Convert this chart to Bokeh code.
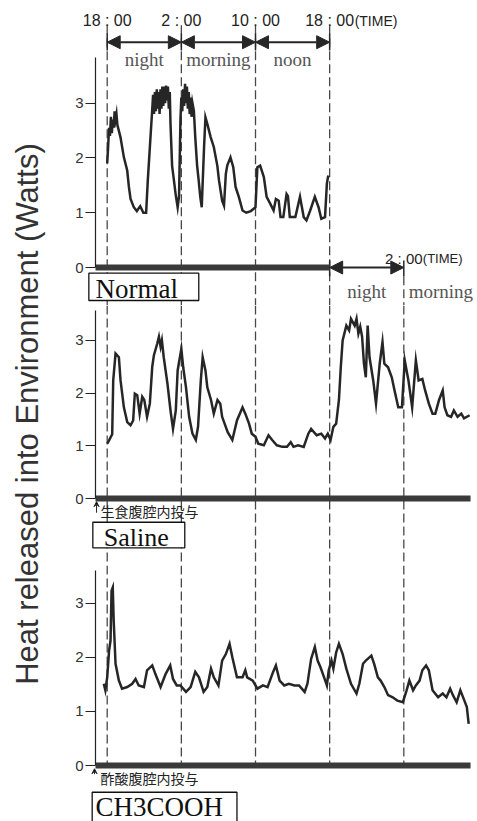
import math
from bokeh.plotting import figure
from bokeh.layouts import row, column
from bokeh.models import FixedTicker, Arrow, NormalHead, VeeHead, Range1d
from bokeh.core.properties import value
from bokeh.embed import file_html
from bokeh.resources import INLINE

# ---------------- data (hours after 18:00 of day 1, Watts) ----------------
t_normal = [0.0, 0.1, 0.2, 0.3, 0.4, 0.5, 0.6, 0.7, 0.8, 0.9, 1.0, 1.1, 1.43, 1.8, 2.16, 2.34, 2.52,
            2.87, 3.2, 3.56, 3.9, 4.2, 4.38, 4.67, 4.85,
            4.95, 5.05, 5.15, 5.25, 5.35, 5.45, 5.55, 5.65, 5.75, 5.85, 5.95, 6.05, 6.15, 6.25,
            6.35, 6.45, 6.55, 6.65, 6.75, 6.83, 7.0, 7.2, 7.38, 7.6, 7.75, 7.9,
            8.0, 8.1, 8.2, 8.3, 8.4, 8.5, 8.6, 8.7, 8.8, 8.9, 9.0, 9.1, 9.2, 9.35, 9.5, 9.7, 9.87,
            10.04, 10.2, 10.45, 10.6, 10.8, 11.16, 11.5, 11.88, 12.06, 12.4, 12.6, 12.8, 12.95,
            13.3, 13.6, 13.85, 14.2, 14.6, 15.0, 15.5, 16.0, 16.2, 16.5, 16.9, 17.2, 17.6, 17.95,
            18.2, 18.5, 18.7, 19.0, 19.35, 19.5, 19.7, 20.3, 20.8, 21.2, 21.5, 21.9, 22.4, 22.8,
            23.1, 23.5, 23.7, 23.85]
v_normal = [1.9, 2.2, 2.55, 2.4, 2.75, 2.45, 2.7, 2.55, 2.85, 2.7, 2.8, 2.6, 2.38, 2.01, 1.77, 1.47, 1.25,
            1.1, 1.03, 1.12, 1.0, 1.0, 1.59, 2.38, 2.86,
            3.15, 2.8, 3.2, 2.85, 3.25, 2.9, 3.2, 2.8, 3.25, 2.9, 3.3, 2.95, 3.3, 3.0,
            3.32, 3.05, 3.3, 2.9, 3.2, 2.62, 1.86, 1.59, 1.34, 1.1, 1.3, 2.68,
            3.1, 2.85, 3.25, 2.95, 3.35, 3.0, 3.3, 2.9, 3.2, 2.8, 3.1, 2.75, 3.0, 2.86, 2.38, 1.86, 1.59,
            1.29, 1.1, 2.2, 2.74, 2.62, 2.38, 2.2, 1.86, 1.59, 1.22, 1.13, 1.71, 1.86,
            2.01, 1.83, 1.47, 1.29, 1.04, 1.0, 1.03, 1.1, 1.83, 1.86, 1.65, 1.29, 1.16, 1.04,
            1.25, 1.22, 0.92, 0.92, 1.34, 1.3, 0.92, 0.92, 1.29, 0.92, 0.86, 1.04, 1.29, 1.1,
            0.89, 0.92, 1.53, 1.68]

t_saline = [0.0, 0.2, 0.36, 0.54, 0.65, 0.9, 1.26, 1.44, 1.8, 2.16, 2.52, 2.8, 2.98, 3.24, 3.5, 3.78,
            4.0, 4.3, 4.6, 4.86, 5.04, 5.4, 5.58, 5.76, 5.9, 6.1, 6.5, 6.83, 7.1, 7.4, 7.6, 8.0,
            8.2, 8.5, 8.84, 9.2, 9.56, 9.8, 10.1, 10.3, 10.6, 10.8, 11.2, 11.5, 11.9, 12.2, 12.4,
            13.0, 13.5, 14.0, 14.6, 14.9, 15.3, 15.6, 16.0, 16.3, 16.9, 17.4, 17.8, 18.3, 18.9,
            19.4, 19.8, 20.1, 20.6, 21.2, 21.7, 22.0, 22.6, 23.1, 23.5, 23.8, 24.1, 24.4, 24.7,
            25.0, 25.2, 25.4, 25.8, 26.1, 26.3, 26.7, 26.9, 27.1, 27.3, 27.5, 27.7, 27.9, 28.1,
            28.3, 28.7, 29.0, 29.4, 29.7, 29.9, 30.3, 30.7, 31.0, 31.4, 31.8, 32.1, 32.5, 32.9,
            33.3, 33.6, 34.0, 34.3, 34.7, 35.1, 35.4, 35.8, 36.2, 36.4, 36.7, 37.1, 37.4, 37.8,
            38.2, 38.5, 39.1]
v_saline = [1.04, 1.1, 1.16, 1.22, 2.24, 2.75, 2.68, 2.24, 1.73, 1.45, 1.39, 1.48, 1.99, 1.96, 1.61, 1.93,
            1.87, 1.55, 1.8, 2.5, 2.72, 2.94, 3.07, 2.88, 3.0, 2.68, 2.18, 1.67, 1.32, 1.67, 2.43, 2.84,
            2.49, 2.11, 1.55, 1.23, 1.11, 1.36, 2.24, 2.68, 2.43, 2.11, 1.87, 1.61, 1.87, 1.8, 1.55,
            1.26, 1.11, 1.48, 1.73, 1.61, 1.42, 1.23, 1.17, 1.04, 1.01, 1.2, 1.11, 1.01, 0.98,
            0.98, 1.07, 0.98, 1.01, 0.98, 1.23, 1.32, 1.2, 1.23, 1.14, 1.23, 1.11, 1.36, 1.42,
            1.87, 2.49, 3.0, 3.28, 3.19, 3.41, 3.28, 3.41, 3.13, 3.26, 3.07, 2.56, 2.3, 3.28,
            2.68, 2.24, 1.8, 2.56, 2.97, 2.56, 2.49, 2.3, 2.05, 1.73, 1.73, 2.62, 2.24, 1.73,
            2.62, 2.24, 2.27, 2.05, 1.8, 1.61, 1.61, 1.87, 2.05, 1.73, 1.58, 1.55, 1.67, 1.55,
            1.61, 1.52, 1.58]

t_acetic = [-0.37, -0.2, 0.0, 0.2, 0.36, 0.47, 0.6, 0.7, 0.9, 1.26, 1.6, 2.16, 2.7, 3.06, 3.4, 3.96,
            4.3, 4.86, 5.2, 5.76, 6.3, 6.8, 7.1, 7.5, 7.9, 8.5, 9.0, 9.5, 9.9, 10.4, 10.8, 11.2,
            11.5, 12.0, 12.4, 12.8, 13.2, 13.5, 14.0, 14.6, 14.9, 15.1, 15.7, 16.2, 16.8, 17.3,
            17.9, 18.2, 18.6, 19.1, 19.6, 20.2, 20.7, 21.3, 21.6, 22.0, 22.4, 22.7, 23.0, 23.4,
            23.7, 23.9, 24.2, 24.4, 24.7, 25.0, 25.4, 25.8, 26.3, 26.9, 27.2, 27.6, 27.9, 28.5,
            28.8, 29.2, 29.5, 29.9, 30.3, 30.8, 31.3, 31.9, 32.3, 32.6, 33.0, 33.3, 33.7, 34.0,
            34.4, 34.7, 35.1, 35.7, 36.2, 36.6, 37.0, 37.3, 37.7, 38.1, 38.4, 38.8, 39.0]
v_acetic = [1.51, 1.39, 1.63, 2.12, 2.31, 3.23, 3.29, 2.68, 1.88, 1.57, 1.42, 1.45, 1.51, 1.6, 1.48, 1.45,
            1.76, 1.85, 1.69, 1.45, 1.69, 1.85, 1.6, 1.48, 1.48, 1.36, 1.45, 1.73, 1.63, 1.36, 1.45, 1.79,
            1.63, 1.48, 1.94, 2.06, 2.25, 2.0, 1.63, 1.63, 1.76, 1.63, 1.57, 1.42, 1.48, 1.45,
            1.73, 1.85, 1.57, 1.48, 1.51, 1.48, 1.48, 1.36, 1.51, 1.97, 2.19, 1.94, 1.82, 1.63,
            1.48, 1.76, 1.94, 1.79, 2.09, 2.25, 2.06, 1.79, 1.51, 1.33, 1.51, 1.88, 1.94, 2.03,
            1.88, 1.63, 1.57, 1.45, 1.30, 1.26, 1.2, 1.17, 1.39, 1.57, 1.39, 1.48, 1.57, 1.76,
            1.85, 1.76, 1.39, 1.26, 1.33, 1.26, 1.42, 1.30, 1.17, 1.39, 1.26, 1.08, 0.77]

y_ticks = [0, 1, 2, 3]
boundary_hours = [0, 8, 16, 24]
time_labels = ["18 : 00", "2 : 00", "10 : 00", "18 : 00"]
period_centers = [4, 12, 20]
period_names = ["night", "morning", "noon"]
second_hours = [24, 32]
second_label = ["2 : 00"]
second_centers = [28, 36]
second_names = ["night", "morning"]
all_hours = [0, 8, 16, 24, 32]
title_text = "Heat released into Environment (Watts)"
panel_names = ["Normal", "Saline", "CH3COOH"]
injection_texts = ["生食腹腔内投与", "酢酸腹腔内投与"]

# ---------------- layout constants ----------------
TITLE_W = 50
X0, X1 = -3.42, 39.95          # frame spans x = 75 .. 477 px
AXIS_X = -1.26                 # y axis drawn at x = 95 px
BAR_END = 39.2
INK = "#262626"
DASH = "#474747"
SANS = value("Liberation Sans")
SERIF = value("Liberation Serif")
CJK = value("Noto Sans CJK JP")


def make_panel(height, y0, y1, axis_top):
    p = figure(width=477 - TITLE_W, height=height, x_range=Range1d(X0, X1), y_range=Range1d(y0, y1),
               x_axis_type=None, toolbar_location=None, output_backend="svg", title=None,
               min_border_left=75 - TITLE_W, min_border_right=0, min_border_top=0, min_border_bottom=0)
    p.outline_line_color = None
    p.ygrid.grid_line_color = None
    p.background_fill_color = "white"
    p.border_fill_color = "white"
    ax = p.yaxis[0]
    ax.fixed_location = AXIS_X
    ax.ticker = FixedTicker(ticks=y_ticks)
    ax.bounds = (0, axis_top)
    ax.minor_tick_line_color = None
    ax.major_tick_out = 10
    ax.major_tick_in = 0
    ax.major_label_standoff = 2
    ax.major_label_text_font = "Liberation Sans"
    ax.major_label_text_font_size = "15px"
    ax.major_label_text_color = "#333333"
    ax.axis_line_color = "#222222"
    ax.major_tick_line_color = "#222222"
    ax.axis_line_width = 1.2
    ax.major_tick_line_width = 1.2
    return p


def add_box(p, left, right, bottom, top, name, tx, ty, size):
    p.quad(left=[left], right=[right], bottom=[bottom], top=[top], fill_color="white",
           line_color="#111111", line_width=1.3)
    p.text(x=[tx], y=[ty], text=[name], text_font=SERIF, text_font_size=size,
           text_color="#111111", text_align="left", text_baseline="middle")


# ---------------- panel 1 : Normal ----------------
p1 = make_panel(305, -0.693, 4.872, 3.83)
p1.segment(x0=boundary_hours, y0=[4.42] * 4, x1=boundary_hours, y1=[-0.693] * 4,
           line_color=DASH, line_width=1.3, line_dash="9 4")
p1.segment(x0=[32], y0=[-0.16], x1=[32], y1=[-0.693], line_color=DASH, line_width=1.3, line_dash="9 4")
p1.segment(x0=boundary_hours, y0=[4.27] * 4, x1=boundary_hours, y1=[3.96] * 4,
           line_color=INK, line_width=1.5)
p1.segment(x0=second_hours, y0=[0.13] * 2, x1=second_hours, y1=[-0.16] * 2,
           line_color=INK, line_width=1.5)
p1.text(x=boundary_hours, y=[4.507] * 4, text=time_labels, text_font=SANS, text_font_size="16px",
        text_color="#222222", text_align="center", text_baseline="middle")
p1.text(x=[24], y=[4.493], text=["(TIME)"], x_offset=25, text_font=SANS, text_font_size="14px",
        text_color="#222222", text_align="left", text_baseline="middle")
for a, b in zip(boundary_hours[:-1], boundary_hours[1:]):
    p1.add_layout(Arrow(start=NormalHead(size=13, fill_color=INK, line_color=INK),
                        end=NormalHead(size=13, fill_color=INK, line_color=INK),
                        x_start=a, y_start=4.111, x_end=b, y_end=4.111,
                        line_color=INK, line_width=2))
p1.text(x=period_centers, y=[3.79] * 3, text=period_names, text_font=SERIF, text_font_size="19px",
        text_color="#555555", text_align="center", text_baseline="middle")
p1.line([AXIS_X, 24], [0, 0], line_color="#3a3a3a", line_width=6, line_cap="butt")
p1.add_layout(Arrow(start=NormalHead(size=13, fill_color=INK, line_color=INK),
                    end=NormalHead(size=13, fill_color=INK, line_color=INK),
                    x_start=second_hours[0], y_start=0, x_end=second_hours[1], y_end=0,
                    line_color=INK, line_width=2))
p1.text(x=[32], y=[0.173], text=second_label, text_font=SANS, text_font_size="15px",
        text_color="#222222", text_align="center", text_baseline="middle")
p1.text(x=[32], y=[0.162], text=["(TIME)"], x_offset=19, text_font=SANS, text_font_size="13px",
        text_color="#222222", text_align="left", text_baseline="middle")
p1.text(x=second_centers, y=[-0.438] * 2, text=second_names, text_font=SERIF, text_font_size="19px",
        text_color="#555555", text_align="center", text_baseline="middle")
p1.line(t_normal, v_normal, line_color=INK, line_width=2.5, line_join="miter")
add_box(p1, -1.98, 9.88, -0.602, -0.104, panel_names[0], -1.26, -0.394, "27px")

# ---------------- panel 2 : Saline ----------------
p2 = make_panel(260, -1.271, 3.662, 3.57)
p2.segment(x0=all_hours, y0=[3.662] * 5, x1=all_hours, y1=[-1.271] * 5,
           line_color=DASH, line_width=1.3, line_dash="9 4")
p2.line([AXIS_X, BAR_END], [0, 0], line_color="#3a3a3a", line_width=6, line_cap="butt")
p2.line(t_saline, v_saline, line_color=INK, line_width=2.5, line_join="miter")
p2.add_layout(Arrow(end=VeeHead(size=5, line_color=INK, line_width=1), x_start=-1.15, y_start=-0.27,
                    x_end=-1.15, y_end=-0.06, line_color=INK, line_width=1))
p2.text(x=[-0.72], y=[-0.228], text=[injection_texts[0]], text_font=CJK, text_font_size="14px",
        text_color="#222222", text_align="left", text_baseline="middle")
add_box(p2, -1.55, 8.37, -0.935, -0.45, panel_names[1], -0.37, -0.744, "26px")

# ---------------- panel 3 : CH3COOH ----------------
p3 = make_panel(256, -1.035, 3.697, 3.6)
p3.segment(x0=all_hours, y0=[3.697] * 5, x1=all_hours, y1=[0] * 5,
           line_color=DASH, line_width=1.3, line_dash="9 4")
p3.line([AXIS_X, BAR_END], [0, 0], line_color="#3a3a3a", line_width=6, line_cap="butt")
p3.line(t_acetic, v_acetic, line_color=INK, line_width=2.5, line_join="miter")
p3.add_layout(Arrow(end=VeeHead(size=5, line_color=INK, line_width=1), x_start=-1.37, y_start=-0.16,
                    x_end=-1.37, y_end=-0.06, line_color=INK, line_width=1))
p3.text(x=[-0.72], y=[-0.222], text=[injection_texts[1]], text_font=CJK, text_font_size="14px",
        text_color="#222222", text_align="left", text_baseline="middle")
add_box(p3, -1.62, 14.0, -1.07, -0.494, panel_names[2], -1.26, -0.758, "27px")

# ---------------- shared y title ----------------
pt = figure(width=TITLE_W, height=821, x_range=Range1d(0, TITLE_W), y_range=Range1d(0, 821),
            x_axis_type=None, y_axis_type=None, toolbar_location=None, output_backend="svg",
            title=None, min_border=0)
pt.outline_line_color = None
pt.grid.grid_line_color = None
pt.text(x=[26.5], y=[407.5], text=[title_text], angle=math.pi / 2, text_font=SANS,
        text_font_size="31px", text_color="#333333", text_align="center", text_baseline="middle")

layout = row(pt, column(p1, p2, p3, spacing=0), spacing=0)
open("out.html", "w").write(file_html(layout, INLINE))
